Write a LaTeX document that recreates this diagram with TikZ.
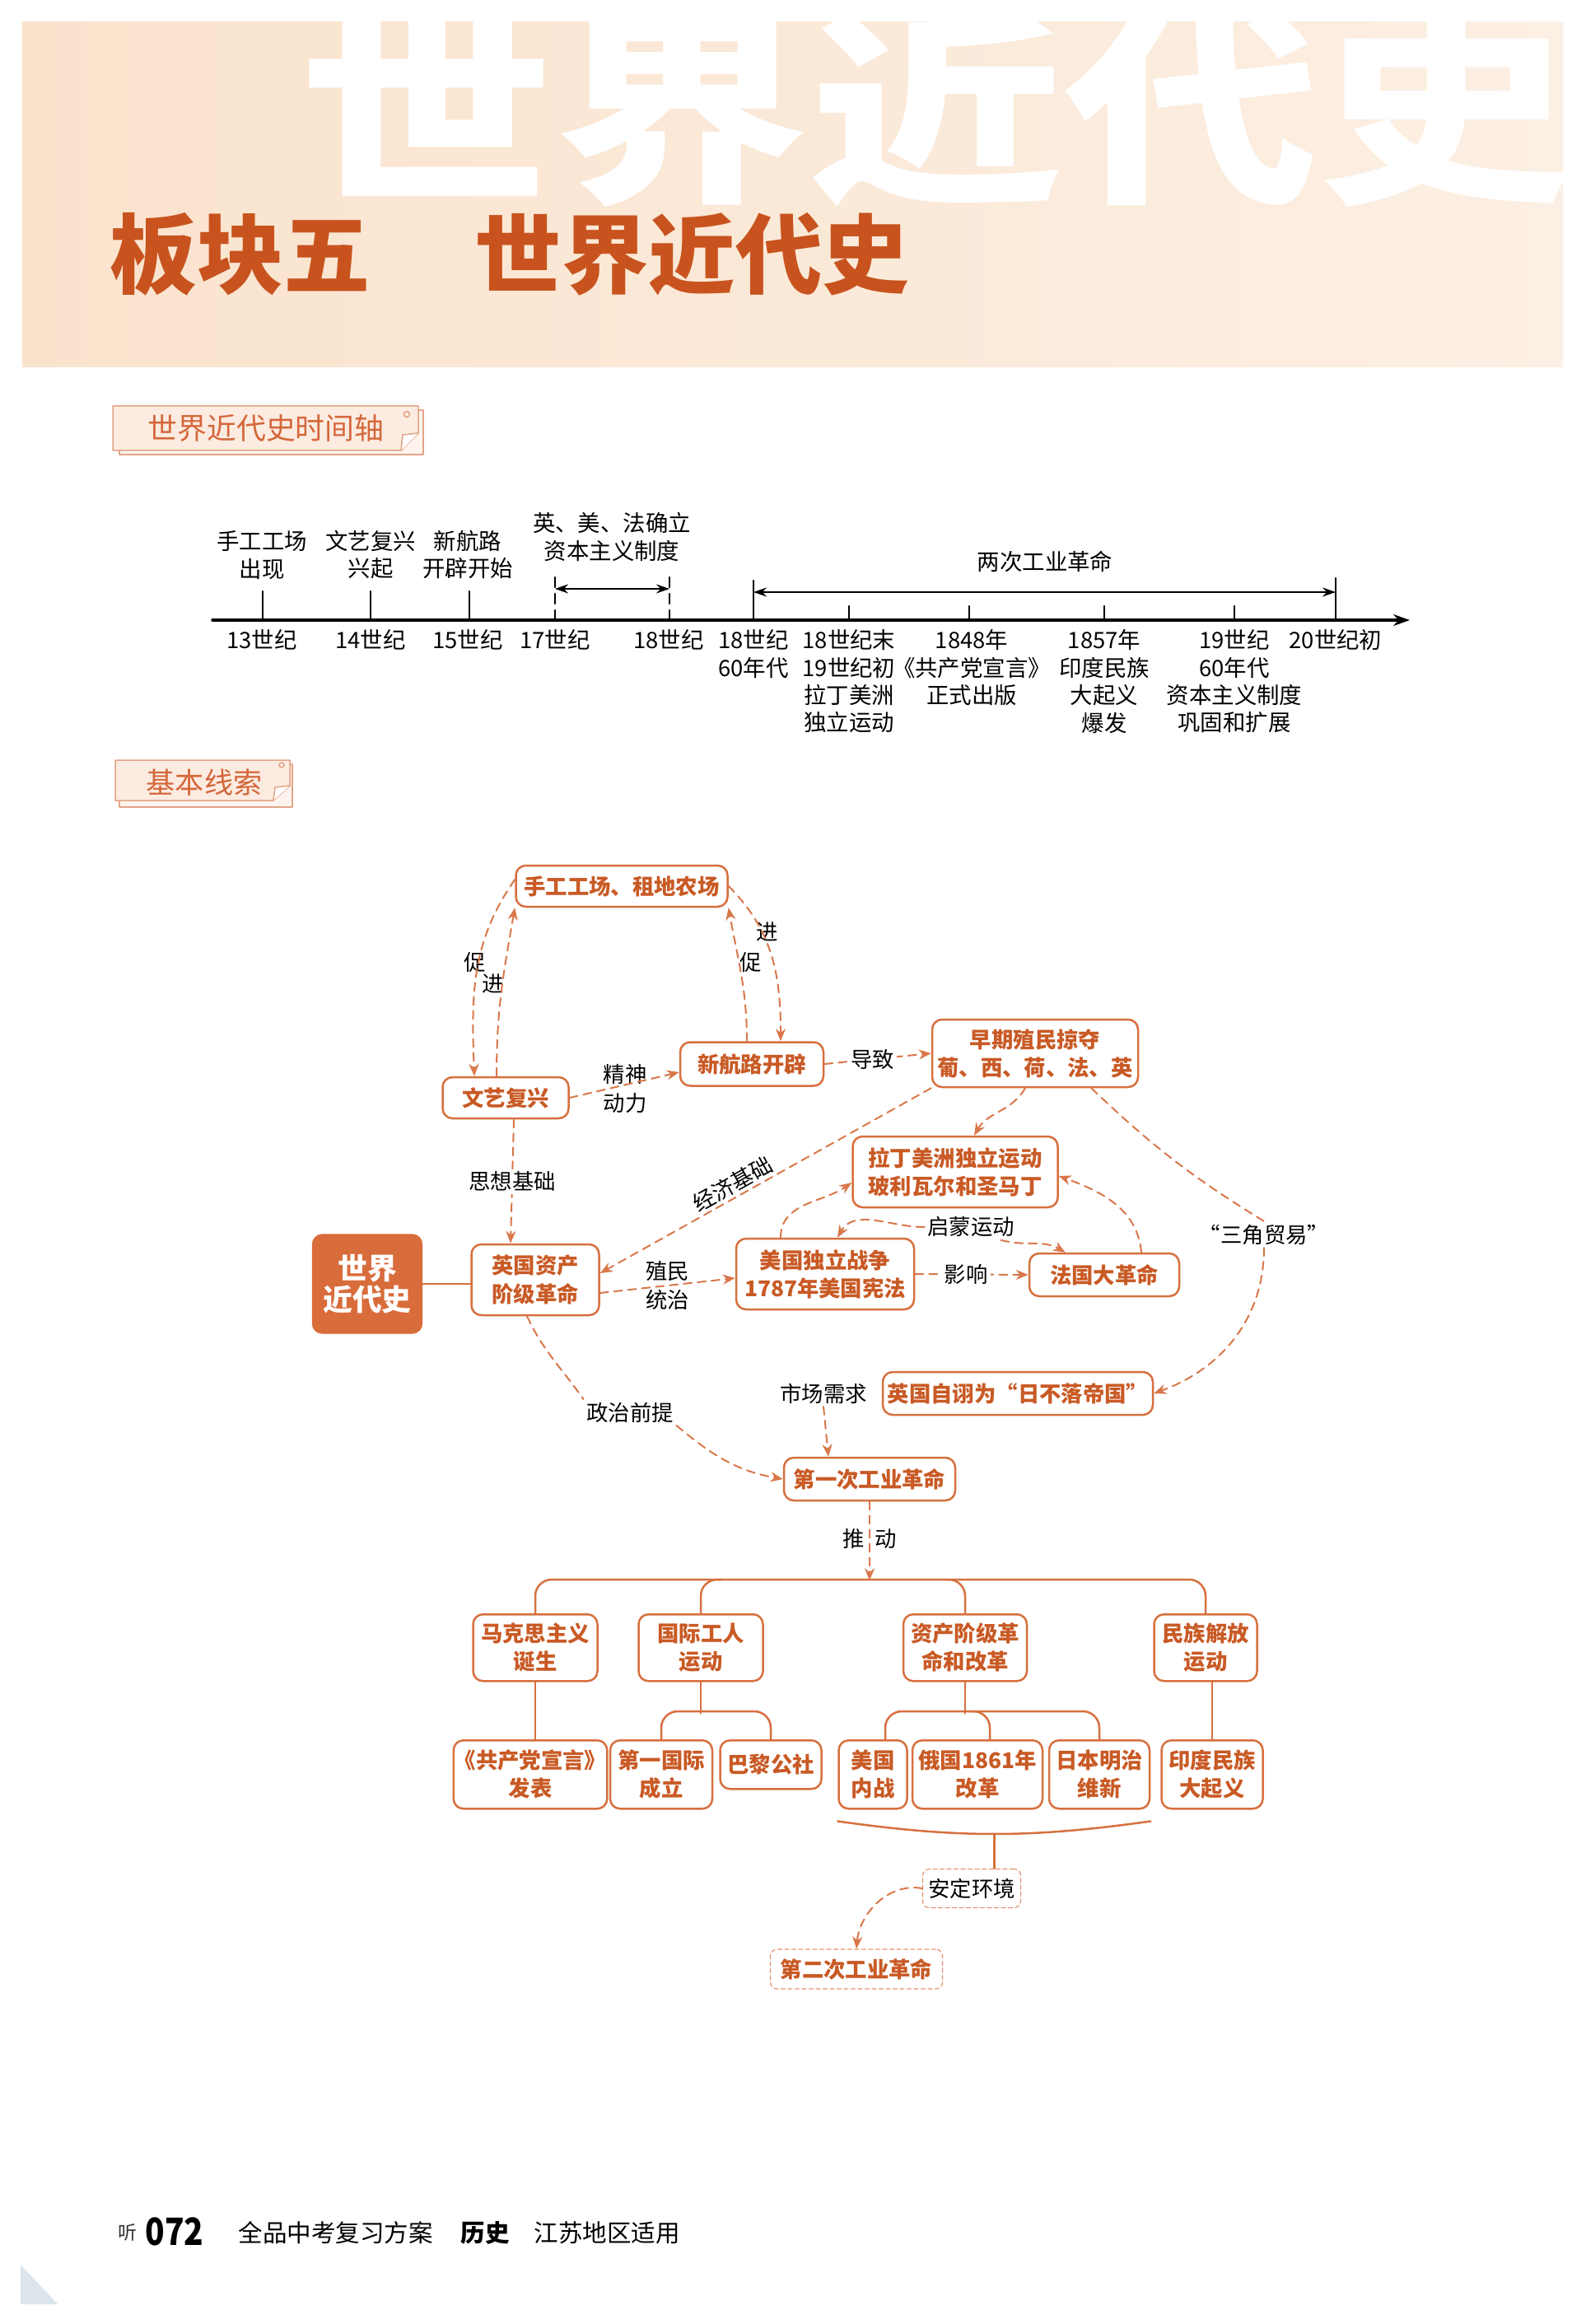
\documentclass[tikz,border=0pt]{standalone}
\usepackage{fontspec}
\setmainfont{Noto Sans CJK SC}
\usetikzlibrary{arrows.meta}

\definecolor{boxline}{HTML}{D7703F}
\definecolor{boxtext}{HTML}{C95A25}
\definecolor{linkcol}{HTML}{D9774A}
\definecolor{titlered}{HTML}{C8531E}
\definecolor{bannerL}{HTML}{FAE3CD}
\definecolor{bannerR}{HTML}{FCEFE3}
\definecolor{tagfill}{HTML}{FCEBE1}
\definecolor{tagunder}{HTML}{FDF4EE}
\definecolor{tagborder}{HTML}{E3A486}
\definecolor{tagtext}{HTML}{D4673A}
\definecolor{worldfill}{HTML}{D96C3B}
\definecolor{cornerblue}{HTML}{DCE4EC}

\newcommand\bxfont{\fontsize{7.5pt}{9.7pt}\selectfont\bfseries}
\newcommand\lbfont{\fontsize{7.5pt}{9.7pt}\selectfont}
\newcommand\tlfont{\fontsize{7.8pt}{9.5pt}\selectfont}

\tikzset{
  box/.style={draw=boxline, line width=0.25mm, rounded corners=1.2mm, fill=white,
    text=boxtext, font=\bxfont, align=center, inner sep=0.3mm},
  dashbox/.style={draw=boxline!75, line width=0.12mm, dash pattern=on 0.5mm off 0.35mm,
    rounded corners=0.8mm, fill=white, align=center, inner sep=0.3mm},
  lbl/.style={font=\lbfont, text=black, inner sep=0.3mm, align=center},
  link/.style={draw=linkcol, line width=0.2mm, dash pattern=on 1mm off 0.7mm},
  linkarrow/.style={link, -{Stealth[length=1.5mm, width=1.2mm]}},
  branch/.style={draw=boxline, line width=0.25mm},
  tl/.style={font=\tlfont, inner sep=0, align=center},
  tlmark/.style={line width=0.22mm},
  tagedge/.style={draw=tagborder, line width=0.15mm},
  tagtxt/.style={text=tagtext, font=\fontsize{10pt}{11pt}\selectfont, inner sep=0},
}

\begin{document}
\begin{tikzpicture}[x=1mm, y=1mm, line cap=round, line join=round]
  \useasboundingbox (0,0) rectangle (192.5,-282.2);
  \fill[white] (0,0) rectangle (192.5,-282.2);

  % banner
  \shade[left color=bannerL, right color=bannerR] (2.7,-2.7) rectangle (189.8,-44.6);
  \begin{scope}
    \clip (2.7,-2.7) rectangle (189.8,-44.6);
    \node[anchor=north west, inner sep=0, text=white, xscale=1.24,
      font=\fontsize{71pt}{71pt}\selectfont\bfseries] (bgtitle) at (36.3,-1.25) {世界近代史};
  \end{scope}
  \node[anchor=west, inner sep=0, text=titlered, font=\fontsize{30pt}{30pt}\selectfont\bfseries] (part) at (13.3,-30.9) {板块五};
  \node[anchor=west, inner sep=0, text=titlered, font=\fontsize{30pt}{30pt}\selectfont\bfseries] (parttitle) at (57.6,-30.9) {世界近代史};

  % tag 1
  \draw[tagedge, fill=tagunder] (14.5,-49.8) rectangle (51.4,-55.2);
  \draw[tagedge, fill=tagfill] (13.7,-49.3) -- (50.8,-49.3) -- (50.8,-52.6) -- (48.7,-54.7) -- (13.7,-54.7) -- cycle;
  \draw[tagedge, fill=white] (50.8,-52.6) -- (48.9,-52.8) -- (48.7,-54.7);
  \draw[tagedge] (49.4,-50.3) circle[radius=0.35];
  \node[tagtxt, font=\fontsize{10.2pt}{11pt}\selectfont] (tagaxis) at (32.3,-52.0) {世界近代史时间轴};

  % timeline
  \draw[line width=0.35mm, -{Stealth[length=2mm, width=1.4mm]}] (25.8,-75.3) -- (171.2,-75.3);
  \draw[tlmark] (31.9,-75.3) -- (31.9,-71.8);
  \draw[tlmark] (45.0,-75.3) -- (45.0,-71.8);
  \draw[tlmark] (57.0,-75.3) -- (57.0,-71.8);
  \draw[tlmark, dash pattern=on 1.2mm off 0.8mm] (67.4,-75.3) -- (67.4,-69.7);
  \draw[tlmark, dash pattern=on 1.2mm off 0.8mm] (81.3,-75.3) -- (81.3,-69.7);
  \draw[tlmark] (91.5,-75.3) -- (91.5,-70.5);
  \draw[tlmark] (103.1,-75.3) -- (103.1,-73.6);
  \draw[tlmark] (117.7,-75.3) -- (117.7,-73.6);
  \draw[tlmark] (134.1,-75.3) -- (134.1,-73.6);
  \draw[tlmark] (149.9,-75.3) -- (149.9,-73.6);
  \draw[tlmark] (162.2,-75.3) -- (162.2,-70.2);
  \draw[tlmark, {Stealth[length=1.6mm, width=1.1mm]}-{Stealth[length=1.6mm, width=1.1mm]}] (67.4,-71.5) -- (81.3,-71.5);
  \draw[tlmark, {Stealth[length=1.6mm, width=1.1mm]}-{Stealth[length=1.6mm, width=1.1mm]}] (91.5,-71.9) -- (162.2,-71.9);

  \node[tl, anchor=south] (up13) at (31.8,-70.4) {手工工场\\出现};
  \node[tl, anchor=south] (up14) at (45.0,-70.4) {文艺复兴\\兴起};
  \node[tl, anchor=south] (up15) at (56.8,-70.4) {新航路\\开辟开始};
  \node[tl, anchor=south] (up17) at (74.3,-68.2) {英、美、法确立\\资本主义制度};
  \node[tl] (upind) at (126.9,-68.2) {两次工业革命};

  \node[tl, anchor=north] (dn13) at (31.8,-76.4) {13世纪};
  \node[tl, anchor=north] (dn14) at (45.0,-76.4) {14世纪};
  \node[tl, anchor=north] (dn15) at (56.8,-76.4) {15世纪};
  \node[tl, anchor=north] (dn17) at (67.4,-76.4) {17世纪};
  \node[tl, anchor=north] (dn18) at (81.2,-76.4) {18世纪};
  \node[tl, anchor=north] (dn1860) at (91.5,-76.4) {18世纪\\60年代};
  \node[tl, anchor=north] (dnlat) at (103.1,-76.4) {18世纪末\\19世纪初\\拉丁美洲\\独立运动};
  \node[tl, anchor=north] (dn1848) at (118.0,-76.4) {1848年\\《共产党宣言》\\正式出版};
  \node[tl, anchor=north] (dn1857) at (134.1,-76.4) {1857年\\印度民族\\大起义\\爆发};
  \node[tl, anchor=north] (dn1960) at (149.9,-76.4) {19世纪\\60年代\\资本主义制度\\巩固和扩展};
  \node[tl, anchor=north] (dn20) at (162.2,-76.4) {20世纪初};

  % tag 2
  \draw[tagedge, fill=tagunder] (14.5,-92.8) rectangle (35.5,-98.0);
  \draw[tagedge, fill=tagfill] (14.0,-92.3) -- (35.2,-92.3) -- (35.2,-95.4) -- (33.2,-97.2) -- (14.0,-97.2) -- cycle;
  \draw[tagedge, fill=white] (35.2,-95.4) -- (33.4,-95.6) -- (33.2,-97.2);
  \draw[tagedge] (34.2,-92.9) circle[radius=0.3];
  \node[tagtxt] (tagline) at (24.8,-95.0) {基本线索};

  % main nodes
  \node[box, minimum width=25.7mm, minimum height=5mm] (shougong) at (75.5,-107.6) {手工工场、租地农场};
  \node[box, minimum width=15.3mm, minimum height=5mm] (wenyi) at (61.4,-133.3) {文艺复兴};
  \node[box, minimum width=17.4mm, minimum height=5.3mm] (hanglu) at (91.3,-129.2) {新航路开辟};
  \node[box, minimum width=25mm, minimum height=8.2mm] (zaoqi) at (125.7,-127.9) {早期殖民掠夺\\葡、西、荷、法、英};
  \node[box, minimum width=24.9mm, minimum height=8.6mm] (lading) at (116.0,-142.3) {拉丁美洲独立运动\\玻利瓦尔和圣马丁};
  \node[draw=worldfill, fill=worldfill, rounded corners=1.2mm, text=white, align=center,
    font=\fontsize{10.2pt}{11pt}\selectfont\bfseries, minimum width=13.3mm, minimum height=12mm] (world) at (44.6,-155.9) {世界\\近代史};
  \node[box, minimum width=15.5mm, minimum height=8.6mm] (yingguo) at (65.0,-155.4) {英国资产\\阶级革命};
  \node[box, minimum width=21.6mm, minimum height=8.6mm] (meiguo) at (100.2,-154.7) {美国独立战争\\1787年美国宪法};
  \node[box, minimum width=18.2mm, minimum height=5.2mm] (faguo) at (134.1,-154.8) {法国大革命};
  \node[box, minimum width=32.8mm, minimum height=5.2mm] (riluo) at (123.6,-169.2) {英国自诩为“日不落帝国”};
  \node[box, minimum width=20.8mm, minimum height=5.2mm] (diyi) at (105.6,-179.6) {第一次工业革命};

  \node[box, anchor=north, minimum width=15.1mm, minimum height=8.1mm] (makesi) at (65.0,-195.9) {马克思主义\\诞生};
  \node[box, anchor=north, minimum width=15.1mm, minimum height=8.1mm] (guoji) at (85.1,-195.9) {国际工人\\运动};
  \node[box, anchor=north, minimum width=15mm, minimum height=8.1mm] (zichan) at (117.2,-195.9) {资产阶级革\\命和改革};
  \node[box, anchor=north, minimum width=12.5mm, minimum height=8.1mm] (minzu) at (146.4,-195.9) {民族解放\\运动};

  \node[box, anchor=north, minimum width=18.4mm, minimum height=8.3mm, inner sep=0.1mm] (gongchan) at (64.4,-211.2) {《共产党宣言》\\发表};
  \node[box, anchor=north, minimum width=12.4mm, minimum height=8.3mm] (diyiguoji) at (80.3,-211.2) {第一国际\\成立};
  \node[box, anchor=north, minimum width=12.3mm, minimum height=5.9mm] (bali) at (93.6,-211.2) {巴黎公社};
  \node[box, anchor=north, minimum width=8.3mm, minimum height=8.3mm] (neizhan) at (106.0,-211.2) {美国\\内战};
  \node[box, anchor=north, minimum width=15.8mm, minimum height=8.3mm] (eguo) at (118.7,-211.2) {俄国1861年\\改革};
  \node[box, anchor=north, minimum width=12.2mm, minimum height=8.3mm] (riben) at (133.5,-211.2) {日本明治\\维新};
  \node[box, anchor=north, minimum width=12.3mm, minimum height=8.3mm] (yindu) at (147.2,-211.2) {印度民族\\大起义};

  \node[dashbox, font=\lbfont, minimum width=11.9mm, minimum height=4.7mm] (anding) at (118.0,-229.3) {安定环境};
  \node[dashbox, font=\bxfont, text=boxtext, minimum width=20.9mm, minimum height=4.8mm] (dier) at (104.0,-239.1) {第二次工业革命};

  % labels
  \node[lbl] (cuL) at (57.7,-116.9) {促};
  \node[lbl] (jinL) at (59.9,-119.5) {进};
  \node[lbl] (jinR) at (93.2,-113.2) {进};
  \node[lbl] (cuR) at (91.2,-116.9) {促};
  \node[lbl] (jingshen) at (75.9,-132.2) {精神\\动力};
  \node[lbl] (qimeng) at (117.9,-149.0) {启蒙运动};
  \node[lbl] (sanjiao) at (153.5,-149.9) {“三角贸易”};
  \node[lbl] (shichang) at (100.0,-169.2) {市场需求};
  \node[lbl] (zhengzhi) at (76.5,-171.5) {政治前提};

  % dashed links
  \draw[linkarrow] ([yshift=0.8mm]shougong.west) to[out=235, in=92] ([xshift=-3.8mm]wenyi.north);
  \draw[linkarrow] ([xshift=-1.1mm]wenyi.north) to[out=90, in=260] (shougong.south west);
  \draw[linkarrow] (shougong.east) to[out=-45, in=90] ([xshift=3.5mm]hanglu.north);
  \draw[linkarrow] ([xshift=-0.6mm]hanglu.north) to[out=90, in=-80] (shougong.south east);
  \draw[linkarrow] (wenyi.east) -- ([yshift=-1mm]hanglu.west);
  \draw[linkarrow] (hanglu.east) -- node[lbl, fill=white, pos=0.45] (daozhi) {导致} (zaoqi.west);
  \draw[linkarrow] ([xshift=1mm]wenyi.south) -- node[lbl, fill=white] (sixiang) {思想基础} ([xshift=-3mm]yingguo.north);
  \draw[linkarrow] (zaoqi.south west) -- node[lbl, sloped, above, pos=0.58] (jingji) {经济基础} ([yshift=0.8mm]yingguo.east);
  \draw[linkarrow] ([xshift=-1.2mm]zaoqi.south) to[out=240, in=60] ([xshift=2.3mm]lading.north);
  \draw[link] ([xshift=-5.8mm]zaoqi.south east) to[bend right=6] (sanjiao.north);
  \draw[linkarrow] (sanjiao.south) to[out=-90, in=20] (riluo.east);
  \draw[linkarrow] ([yshift=-1.6mm]yingguo.east) -- node[lbl] (zhimin) {殖民\\统治} ([yshift=-0.5mm]meiguo.west);
  \draw[linkarrow] (meiguo.east) -- node[lbl, fill=white, pos=0.45] (yingxiang) {影响} (faguo.west);
  \draw[linkarrow] ([xshift=-5.4mm]meiguo.north) to[out=90, in=215] ([yshift=-1.3mm]lading.west);
  \draw[linkarrow] ([xshift=4.5mm]faguo.north) to[out=95, in=-20] ([yshift=-0.5mm]lading.east);
  \draw[linkarrow] (qimeng.west) to[out=180, in=60] ([xshift=1.5mm]meiguo.north);
  \draw[linkarrow] ([xshift=-2mm]qimeng.south east) to[out=-15, in=150] ([xshift=4.5mm]faguo.north west);
  \draw[link] ([xshift=-1mm]yingguo.south) to[out=-65, in=125] (zhengzhi.north west);
  \draw[linkarrow] (zhengzhi.south east) to[out=-40, in=170] (diyi.west);
  \draw[linkarrow] (shichang.south) -- ([xshift=-5mm]diyi.north);
  \draw[linkarrow] (diyi.south) -- node[lbl, pos=0.47] (tuidong) {推\hspace{1.3mm}动} ++(0,-9.6);

  % solid branches
  \draw[branch] (world.east) -- (world.east -| yingguo.west);
  \draw[branch, rounded corners=2mm] (makesi.north) -- ++(0,4.1) -| (minzu.north);
  \draw[branch, rounded corners=2mm] (guoji.north) -- ++(0,4.1) -- ++(2.5,0);
  \draw[branch, rounded corners=2mm] (zichan.north) -- ++(0,4.1) -- ++(-2.5,0);
  \draw[branch] (makesi.south) -- (makesi.south |- gongchan.north);
  \draw[branch] (guoji.south) -- ++(0,-3.8);
  \draw[branch, rounded corners=2mm] (diyiguoji.north) -- ++(0,3.4) -| (bali.north);
  \draw[branch] (zichan.south) -- ++(0,-3.8);
  \draw[branch, rounded corners=2mm] ([xshift=1.5mm]neizhan.north) -- ++(0,3.4) -| (riben.north);
  \draw[branch, rounded corners=2mm] ([xshift=1.5mm]eguo.north) -- ++(0,3.4) -- ++(-2.5,0);
  \draw[branch] (yindu.north |- minzu.south) -- (yindu.north);
  \draw[branch] ([yshift=-1.4mm]neizhan.south west) to[bend right=8] coordinate[pos=0.5] (bracemid) ([yshift=-1.4mm]riben.south east);
  \draw[branch] (bracemid) -- (bracemid |- anding.north);
  \draw[linkarrow] (anding.west) to[out=170, in=85] (dier.north);

  % footer
  \node[anchor=west, inner sep=0, font=\fontsize{6.5pt}{7pt}\selectfont, text=black!80] (ting) at (14.3,-271.1) {听};
  \node[anchor=west, inner sep=0, font=\fontsize{13pt}{13pt}\selectfont\bfseries, xscale=0.85] (pageno) at (17.6,-271.0) {072};
  \node[anchor=west, inner sep=0, font=\fontsize{8.4pt}{9pt}\selectfont] (book) at (28.9,-271.1) {全品中考复习方案};
  \node[anchor=west, inner sep=0, font=\fontsize{8.4pt}{9pt}\selectfont\bfseries] (subject) at (55.9,-271.1) {历史};
  \node[anchor=west, inner sep=0, font=\fontsize{8.4pt}{9pt}\selectfont] (region) at (64.8,-271.1) {江苏地区适用};
  \fill[cornerblue] (2.5,-275.0) -- (2.5,-279.8) -- (7.0,-279.8) -- cycle;
\end{tikzpicture}
\end{document}
